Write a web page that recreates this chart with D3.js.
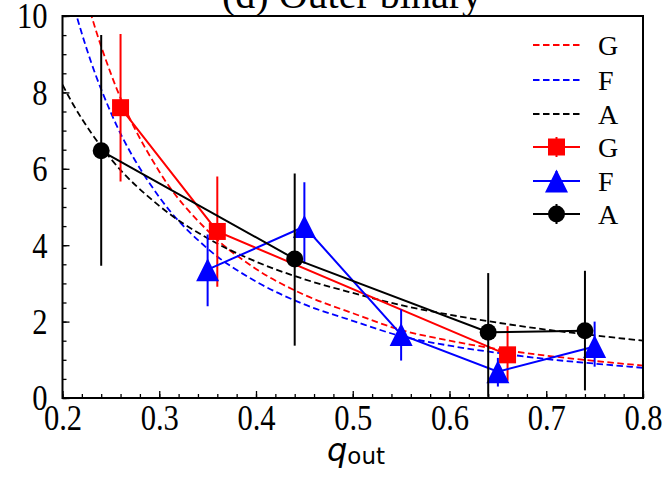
<!DOCTYPE html>
<html>
<head>
<meta charset="utf-8">
<script src="https://cdn.jsdelivr.net/npm/d3@7"></script>
<style>
  html, body { margin: 0; padding: 0; background: #fff; }
  svg { display: block; }
</style>
</head>
<body>
<svg id="chart" width="667" height="478"></svg>
<script>
// ---- data ----
const seriesNames = ["G", "F", "A"];
const seriesColors = ["red", "blue", "black"];

// measured points (q_out, value, lower error end, upper error end)
const gX = [0.26, 0.36, 0.66];
const gY = [7.60, 4.36, 1.13];
const gLo = [5.67, 2.91, 0.45];
const gHi = [9.53, 5.80, 1.88];

const fX = [0.35, 0.45, 0.55, 0.65, 0.75];
const fY = [3.36, 4.49, 1.66, 0.69, 1.35];
const fLo = [2.40, 3.52, 0.98, 0.30, 0.82];
const fHi = [4.28, 5.65, 2.32, 1.05, 2.00];

const aX = [0.24, 0.44, 0.64, 0.74];
const aY = [6.47, 3.64, 1.72, 1.76];
const aLo = [3.46, 1.37, 0.03, 0.20];
const aHi = [9.50, 5.88, 3.27, 3.33];

// fitted trend curves, sampled along q_out
const fitX = [0.20, 0.21, 0.22, 0.23, 0.25, 0.30, 0.35, 0.40, 0.45, 0.50, 0.55, 0.60, 0.65, 0.70, 0.75, 0.80];
const gFit = [13.17, 11.96, 10.92, 10.00, 8.49, 5.93, 4.38, 3.38, 2.70, 2.22, 1.78, 1.50, 1.28, 1.11, 0.97, 0.85];
const fFit = [11.46, 10.43, 9.54, 8.76, 7.47, 5.26, 3.91, 3.05, 2.45, 2.02, 1.62, 1.37, 1.18, 1.02, 0.90, 0.79];
const aFit = [8.20, 7.73, 7.31, 6.93, 6.26, 5.03, 4.18, 3.57, 3.11, 2.75, 2.43, 2.18, 1.97, 1.79, 1.64, 1.50];

const xTicks = [0.2, 0.3, 0.4, 0.5, 0.6, 0.7, 0.8];
const xTickLabels = ["0.2", "0.3", "0.4", "0.5", "0.6", "0.7", "0.8"];
const yTicks = [0, 2, 4, 6, 8, 10];
const yTickLabels = ["0", "2", "4", "6", "8", "10"];
const titleText = "(d) Outer binary";

// ---- layout ----
const serif = "'Liberation Serif', 'Times New Roman', serif";
const svg = d3.select("#chart");
const pL = 62.5, pR = 643, pT = 16, pB = 398;
const narrow = 0.85;   // horizontal squeeze of the tick-label glyphs

const x = d3.scaleLinear().domain([0.2, 0.8]).range([pL, pR]);
const y = d3.scaleLinear().domain([0, 10]).range([pB, pT]);

svg.append("rect").attr("width", 667).attr("height", 478).attr("fill", "#fff");

svg.append("defs").append("clipPath").attr("id", "plotClip")
  .append("rect").attr("x", pL).attr("y", pT)
  .attr("width", pR - pL).attr("height", pB - pT);

// title (partly above the canvas)
svg.append("text")
  .attr("x", 352).attr("y", 8)
  .attr("text-anchor", "middle")
  .attr("font-family", serif).attr("font-size", 40)
  .attr("fill", "#000")
  .text(titleText);

// ---- axes ----
const minorX = d3.range(0.2, 0.8001, 0.02).map(v => +v.toFixed(2));
const minorY = d3.range(0, 10.001, 0.5).map(v => +v.toFixed(1));

const gxMinor = svg.append("g").attr("transform", `translate(0,${pB})`)
  .call(d3.axisBottom(x).tickValues(minorX).tickSize(-4).tickFormat(""));
const gxMajor = svg.append("g").attr("transform", `translate(0,${pB})`)
  .call(d3.axisBottom(x).tickValues(xTicks).tickSize(-7)
    .tickFormat((d, i) => xTickLabels[i]));
const gyMinor = svg.append("g").attr("transform", `translate(${pL},0)`)
  .call(d3.axisLeft(y).tickValues(minorY).tickSize(-4).tickFormat(""));
const gyMajor = svg.append("g").attr("transform", `translate(${pL},0)`)
  .call(d3.axisLeft(y).tickValues(yTicks).tickSize(-7)
    .tickFormat((d, i) => yTickLabels[i]));

[gxMinor, gxMajor, gyMinor, gyMajor].forEach(g => {
  g.select(".domain").remove();
  g.selectAll(".tick line").attr("stroke", "#000").attr("stroke-width", 1.3);
});
gxMajor.selectAll(".tick text")
  .attr("font-family", serif).attr("font-size", 36).attr("fill", "#000")
  .attr("x", 0).attr("y", 32).attr("dy", null)
  .attr("transform", `scale(${narrow},1)`);
gyMajor.selectAll(".tick text")
  .attr("font-family", serif).attr("font-size", 36).attr("fill", "#000")
  .attr("x", -15 / narrow).attr("dy", "0.33em")
  .attr("transform", `scale(${narrow},1)`);

// x-axis label: q_out
const xl = svg.append("text")
  .attr("x", 356).attr("y", 461)
  .attr("text-anchor", "middle")
  .attr("font-family", "'DejaVu Sans', sans-serif")
  .attr("fill", "#000");
xl.append("tspan").attr("font-size", 32).attr("font-style", "italic").text("q");
xl.append("tspan").attr("font-size", 23).attr("dy", 3).text("out");

// ---- plot ----
const plot = svg.append("g").attr("clip-path", "url(#plotClip)");

const fitLine = d3.line()
  .x(d => x(d[0])).y(d => y(d[1]))
  .curve(d3.curveMonotoneX);

const fits = [gFit, fFit, aFit];
fits.forEach((vals, i) => {
  plot.append("path")
    .datum(fitX.map((xv, j) => [xv, vals[j]]))
    .attr("d", fitLine)
    .attr("fill", "none")
    .attr("stroke", seriesColors[i])
    .attr("stroke-width", 1.8)
    .attr("stroke-dasharray", "6.5,3.5");
});

const symTriangle = s => {
  const h = s / 2;
  return `M0,${-h}L${h},${h}L${-h},${h}Z`;
};
function marker(g, kind, color) {
  if (kind === "square") {
    g.append("rect").attr("x", -8.5).attr("y", -8.5).attr("width", 17).attr("height", 17).attr("fill", color);
  } else if (kind === "triangle") {
    g.append("path").attr("d", symTriangle(23)).attr("fill", color);
  } else {
    g.append("circle").attr("r", 8.5).attr("fill", color);
  }
}

const series = [
  { xs: gX, ys: gY, lo: gLo, hi: gHi, kind: "square" },
  { xs: fX, ys: fY, lo: fLo, hi: fHi, kind: "triangle" },
  { xs: aX, ys: aY, lo: aLo, hi: aHi, kind: "circle" }
];

const solidLine = d3.line().x(d => x(d[0])).y(d => y(d[1]));

series.forEach((s, i) => {
  const color = seriesColors[i];
  const g = plot.append("g");
  const pts = s.xs.map((xv, j) => [xv, s.ys[j]]);
  g.append("path").datum(pts).attr("d", solidLine)
    .attr("fill", "none").attr("stroke", color).attr("stroke-width", 2);
  g.selectAll("line.err").data(s.xs).join("line")
    .attr("class", "err")
    .attr("x1", d => x(d)).attr("x2", d => x(d))
    .attr("y1", (d, j) => y(s.lo[j])).attr("y2", (d, j) => y(s.hi[j]))
    .attr("stroke", color).attr("stroke-width", 2);
  pts.forEach(p => {
    const m = g.append("g").attr("transform", `translate(${x(p[0])},${y(p[1])})`);
    marker(m, s.kind, color);
  });
});

// frame
svg.append("rect")
  .attr("x", pL).attr("y", pT)
  .attr("width", pR - pL).attr("height", pB - pT)
  .attr("fill", "none").attr("stroke", "#000").attr("stroke-width", 2);

// ---- legend ----
const legend = svg.append("g");
const legRows = [45, 80, 114, 147, 181, 214];
const legX0 = 533, legX1 = 580, legTextX = 598;
const legItems = [
  { name: seriesNames[0], color: seriesColors[0], dashed: true },
  { name: seriesNames[1], color: seriesColors[1], dashed: true },
  { name: seriesNames[2], color: seriesColors[2], dashed: true },
  { name: seriesNames[0], color: seriesColors[0], kind: "square" },
  { name: seriesNames[1], color: seriesColors[1], kind: "triangle" },
  { name: seriesNames[2], color: seriesColors[2], kind: "circle" }
];
legItems.forEach((it, i) => {
  const yy = legRows[i];
  const row = legend.append("g");
  row.append("line")
    .attr("x1", legX0).attr("x2", legX1).attr("y1", yy).attr("y2", yy)
    .attr("stroke", it.color).attr("stroke-width", it.dashed ? 1.8 : 2)
    .attr("stroke-dasharray", it.dashed ? "6.5,3.5" : null);
  if (!it.dashed) {
    const mx = (legX0 + legX1) / 2;
    row.append("line").attr("x1", mx).attr("x2", mx).attr("y1", yy - 10).attr("y2", yy + 10)
      .attr("stroke", it.color).attr("stroke-width", 2);
    const m = row.append("g").attr("transform", `translate(${mx},${yy})`);
    marker(m, it.kind, it.color);
  }
  row.append("text")
    .attr("x", legTextX).attr("y", yy).attr("dy", "0.34em")
    .attr("font-family", serif).attr("font-size", 28).attr("fill", "#000")
    .text(it.name);
});
</script>
</body>
</html>
